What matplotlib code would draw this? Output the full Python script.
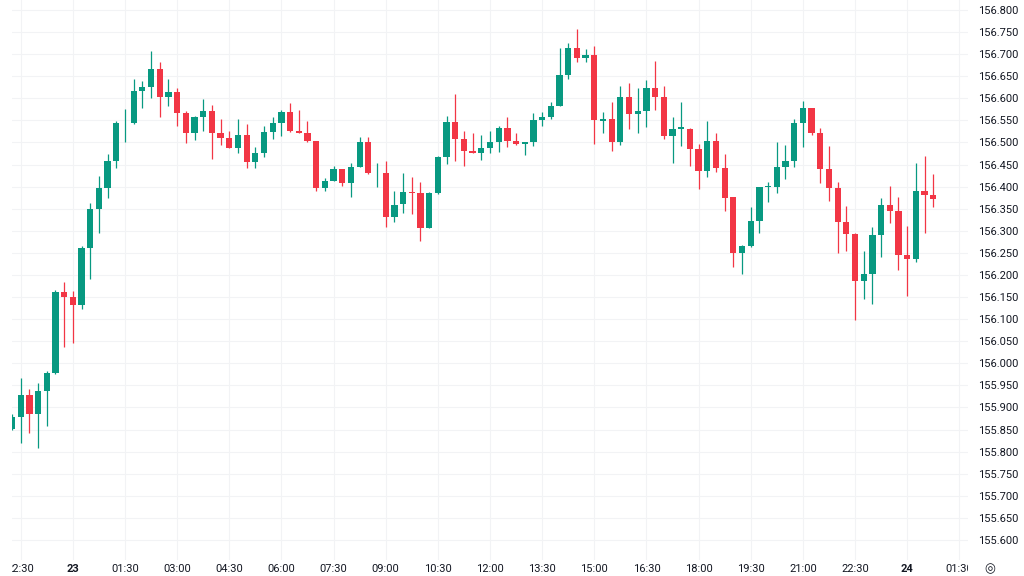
import matplotlib
matplotlib.use("Agg")
import matplotlib.pyplot as plt
from matplotlib.transforms import Bbox, TransformedBbox

# 15 minute candles, 22:15 on the 22nd to 00:45 on the 24th
opens = [155.852, 155.879, 155.928, 155.885, 155.938, 155.979, 156.162, 156.150, 156.132, 156.260,
         156.349, 156.398, 156.459, 156.543, 156.545, 156.617, 156.625, 156.666, 156.604, 156.615,
         156.567, 156.522, 156.557, 156.572, 156.522, 156.510, 156.488, 156.518, 156.455, 156.477,
         156.524, 156.545, 156.568, 156.526, 156.522, 156.503, 156.398, 156.413, 156.439, 156.409,
         156.444, 156.500, 156.430, 156.432, 156.331, 156.360, 156.389, 156.385, 156.307, 156.385,
         156.467, 156.547, 156.507, 156.481, 156.477, 156.488, 156.500, 156.532, 156.503, 156.497,
         156.500, 156.551, 156.558, 156.583, 156.653, 156.713, 156.691, 156.698, 156.549, 156.553,
         156.500, 156.604, 156.564, 156.572, 156.623, 156.604, 156.515, 156.530, 156.531, 156.485,
         156.436, 156.504, 156.442, 156.376, 156.249, 156.266, 156.322, 156.400, 156.400, 156.445,
         156.458, 156.543, 156.577, 156.521, 156.439, 156.396, 156.321, 156.293, 156.186, 156.202,
         156.291, 156.358, 156.346, 156.245, 156.236, 156.391, 156.381]
highs = [155.885, 155.966, 155.941, 155.955, 155.983, 156.165, 156.185, 156.164, 156.266, 156.362,
         156.423, 156.473, 156.549, 156.576, 156.644, 156.639, 156.708, 156.683, 156.644, 156.624,
         156.571, 156.560, 156.598, 156.585, 156.553, 156.526, 156.553, 156.541, 156.489, 156.537,
         156.557, 156.574, 156.590, 156.574, 156.549, 156.504, 156.419, 156.447, 156.440, 156.454,
         156.513, 156.512, 156.453, 156.457, 156.391, 156.430, 156.421, 156.411, 156.389, 156.469,
         156.560, 156.610, 156.527, 156.521, 156.517, 156.526, 156.537, 156.557, 156.521, 156.502,
         156.566, 156.570, 156.592, 156.713, 156.725, 156.756, 156.711, 156.718, 156.568, 156.591,
         156.629, 156.635, 156.623, 156.641, 156.685, 156.629, 156.557, 156.591, 156.532, 156.497,
         156.549, 156.521, 156.474, 156.376, 156.269, 156.353, 156.400, 156.410, 156.500, 156.494,
         156.553, 156.595, 156.578, 156.532, 156.492, 156.410, 156.356, 156.296, 156.254, 156.308,
         156.375, 156.402, 156.376, 156.311, 156.454, 156.470, 156.429]
lows = [155.848, 155.820, 155.842, 155.808, 155.859, 155.975, 156.036, 156.045, 156.122, 156.190,
        156.296, 156.374, 156.443, 156.500, 156.542, 156.579, 156.601, 156.558, 156.583, 156.537,
        156.498, 156.506, 156.527, 156.462, 156.494, 156.487, 156.477, 156.443, 156.442, 156.468,
        156.508, 156.515, 156.524, 156.521, 156.502, 156.391, 156.391, 156.412, 156.401, 156.377,
        156.444, 156.429, 156.399, 156.309, 156.321, 156.341, 156.338, 156.278, 156.306, 156.384,
        156.451, 156.459, 156.447, 156.476, 156.460, 156.476, 156.478, 156.490, 156.494, 156.472,
        156.492, 156.537, 156.553, 156.582, 156.644, 156.683, 156.683, 156.497, 156.522, 156.481,
        156.494, 156.530, 156.521, 156.534, 156.574, 156.507, 156.453, 156.493, 156.447, 156.395,
        156.421, 156.434, 156.346, 156.219, 156.202, 156.263, 156.294, 156.365, 156.385, 156.417,
        156.445, 156.490, 156.517, 156.408, 156.368, 156.249, 156.254, 156.098, 156.146, 156.134,
        156.241, 156.317, 156.211, 156.152, 156.230, 156.294, 156.355]
closes = [155.879, 155.928, 155.885, 155.938, 155.979, 156.162, 156.150, 156.133, 156.260, 156.349,
          156.398, 156.459, 156.543, 156.545, 156.617, 156.626, 156.666, 156.604, 156.615, 156.567,
          156.522, 156.557, 156.572, 156.522, 156.510, 156.488, 156.518, 156.455, 156.477, 156.524,
          156.545, 156.568, 156.526, 156.522, 156.503, 156.398, 156.413, 156.439, 156.409, 156.444,
          156.500, 156.430, 156.432, 156.331, 156.358, 156.389, 156.385, 156.307, 156.385, 156.467,
          156.547, 156.507, 156.481, 156.476, 156.488, 156.500, 156.532, 156.503, 156.497, 156.500,
          156.551, 156.558, 156.583, 156.653, 156.713, 156.691, 156.698, 156.551, 156.553, 156.500,
          156.604, 156.564, 156.572, 156.623, 156.604, 156.515, 156.531, 156.534, 156.485, 156.436,
          156.504, 156.443, 156.375, 156.249, 156.266, 156.322, 156.400, 156.401, 156.445, 156.458,
          156.543, 156.577, 156.521, 156.439, 156.396, 156.321, 156.293, 156.186, 156.202, 156.291,
          156.358, 156.346, 156.245, 156.236, 156.391, 156.381, 156.371]

time_labels = ["22:30", "23", "01:30", "03:00", "04:30", "06:00", "07:30", "09:00", "10:30", "12:00",
               "13:30", "15:00", "16:30", "18:00", "19:30", "21:00", "22:30", "24", "01:30"]
price_ticks = [155.6 + 0.05 * k for k in range(25)]

UP = "#089981"
DOWN = "#f23645"
GRID = "#f2f3f5"
TEXT = "#131722"

plt.rcParams['font.family'] = ['Roboto', 'DejaVu Sans']

fig = plt.figure(figsize=(10.24, 5.76), dpi=100)
ax = fig.add_axes([12 / 1024, 16 / 576, 956 / 1024, 560 / 576])

n = len(opens)
xs = list(range(n))
colors = [UP if c >= o else DOWN for o, c in zip(opens, closes)]
bottoms = [min(o, c) for o, c in zip(opens, closes)]
heights = [max(abs(c - o), 0.0015) for o, c in zip(opens, closes)]

ax.vlines(xs, lows, highs, colors=colors, linewidth=0.9, zorder=2)
ax.bar(xs, heights, bottom=bottoms, width=0.72, color=colors, linewidth=0, zorder=3)

ax.set_xlim(0.0, 110.0)
ax.set_ylim(155.5547, 156.8226)

# time axis: one label every 6 candles (1.5 h)
ax.set_xticks(range(1, 1 + 6 * len(time_labels), 6))
ax.set_xticklabels(time_labels)
ax.set_yticks(price_ticks)
ax.set_yticklabels(["%.3f" % p for p in price_ticks])
ax.yaxis.tick_right()

ax.grid(True, color=GRID, linewidth=0.8)
ax.set_axisbelow(True)
for s in ax.spines.values():
    s.set_visible(False)
ax.tick_params(axis="x", length=0, pad=3, labelsize=8, labelcolor=TEXT)
ax.tick_params(axis="y", length=0, pad=7, labelsize=8, labelcolor=TEXT)

# labels on the time scale are cut at the edges of the pane
clip = TransformedBbox(Bbox([[12 / 1024, 0], [968 / 1024, 1]]), fig.transFigure)
for lab in ax.get_xticklabels():
    lab.set_clip_box(clip)
    lab.set_clip_on(True)
    if lab.get_text() in ("23", "24"):
        lab.set_fontweight("bold")

fig.text(990 / 1024, 1 - 569 / 576, "\u25ce", family="DejaVu Sans", fontsize=9,
         color=TEXT, ha="center", va="center")

fig.savefig("out.png", dpi=100)
